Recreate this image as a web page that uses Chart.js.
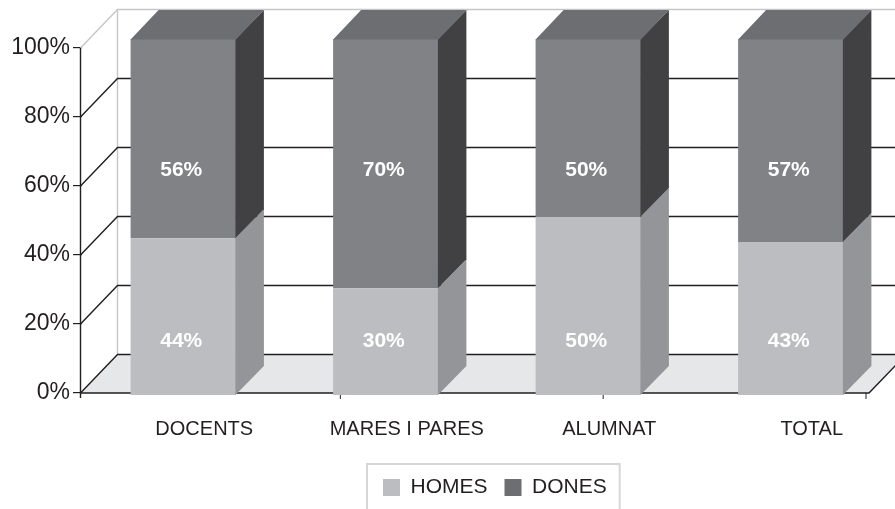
<!DOCTYPE html>
<html><head><meta charset="utf-8">
<script src="https://cdn.jsdelivr.net/npm/chart.js@4/dist/chart.umd.min.js"></script>
<style>html,body{margin:0;padding:0;background:#fff;} canvas{display:block;}</style>
</head><body>
<canvas id="c" width="895" height="509"></canvas>
<script>
const categories = ['DOCENTS', 'MARES I PARES', 'ALUMNAT', 'TOTAL'];
const homes = [44, 30, 50, 43];
const dones = [56, 70, 50, 57];
const seriesNames = ['HOMES', 'DONES'];
const yTickValues = [0, 20, 40, 60, 80, 100];
const yTickLabels = ['0%', '20%', '40%', '60%', '80%', '100%'];

const FONT = "'Liberation Sans', Arial, Helvetica, sans-serif";
const TXT = '#231f20';
const COL = {
  homes: {front: '#bcbdc0', side: '#939598', legend: '#bcbdc0'},
  dones: {front: '#808285', side: '#414042', top: '#6d6e71', legend: '#6d6e71'}
};
const LEGEND_COLORS = [COL.homes.legend, COL.dones.legend];
const WALL = {dx: 37, dy: -38.5};
const BAR = {dx: 28, dy: -29};
const LABEL_AT = [15.2, 63.2]; // value-space height where the data labels sit

const threeD = {
  id: 'threeD',
  afterLayout(chart) {
    const lg = chart.legend;
    if (!lg || !lg.lineWidths) return;
    const p = lg.options.labels.padding;
    const start = (lg.left + p + lg.right - lg.lineWidths[0]) / 2;
    const shift = 383 - start;
    lg.left += shift; lg.right += shift;
  },
  beforeDatasetsDraw(chart) {
    const ctx = chart.ctx, yt = chart.scales.yt, ca = chart.chartArea;
    const fx = 80.5, y0 = yt.getPixelForValue(0), y100 = yt.getPixelForValue(100);
    const fr = ca.right - 23;
    ctx.save();
    ctx.fillStyle = '#e6e7e8';
    ctx.beginPath();
    ctx.moveTo(fx, y0); ctx.lineTo(fr, y0);
    ctx.lineTo(fr + WALL.dx, y0 + WALL.dy); ctx.lineTo(fx + WALL.dx, y0 + WALL.dy);
    ctx.closePath(); ctx.fill();
    ctx.lineWidth = 1.4;
    ctx.strokeStyle = '#c6c6c6';
    ctx.beginPath();
    ctx.moveTo(fx + WALL.dx, y100 + WALL.dy); ctx.lineTo(fx + WALL.dx, y0 + WALL.dy);
    ctx.stroke();
    yTickValues.forEach(v => {
      const py = yt.getPixelForValue(v);
      ctx.strokeStyle = v === 100 ? '#c6c6c6' : TXT;
      ctx.beginPath();
      ctx.moveTo(fx, py); ctx.lineTo(fx + WALL.dx, py + WALL.dy); ctx.lineTo(chart.width, py + WALL.dy);
      ctx.stroke();
    });
    ctx.strokeStyle = TXT;
    ctx.beginPath();
    ctx.moveTo(fx, y0); ctx.lineTo(fr, y0); ctx.lineTo(fr + WALL.dx, y0 + WALL.dy);
    ctx.stroke();
    ctx.beginPath();
    ctx.moveTo(fx, y100); ctx.lineTo(fx, y0 + 5);
    ctx.stroke();
    ctx.lineWidth = 1;
    for (let k = 1; k <= 3; k++) {
      const tx = fx + k * (fr - fx) / 3 - 3;
      ctx.beginPath(); ctx.moveTo(tx, y0); ctx.lineTo(tx, y0 + 6); ctx.stroke();
    }
    ctx.restore();
  },
  afterDatasetsDraw(chart) {
    const ctx = chart.ctx, yS = chart.scales.y;
    const metas = chart.getSortedVisibleDatasetMetas();
    ctx.save();
    metas.forEach(meta => {
      const key = meta.index === 0 ? 'homes' : 'dones';
      const isTop = meta.index === metas.length - 1;
      meta.data.forEach(bar => {
        const {x, y, base, width} = bar.getProps(['x', 'y', 'base', 'width'], true);
        const l = x - width / 2, r = x + width / 2;
        ctx.fillStyle = COL[key].side;
        ctx.beginPath();
        ctx.moveTo(r - 0.5, y); ctx.lineTo(r + BAR.dx, y + BAR.dy);
        ctx.lineTo(r + BAR.dx, base + BAR.dy); ctx.lineTo(r - 0.5, base);
        ctx.closePath(); ctx.fill();
        if (isTop) {
          ctx.fillStyle = COL[key].top;
          ctx.beginPath();
          ctx.moveTo(l, y + 0.5); ctx.lineTo(r, y + 0.5);
          ctx.lineTo(r + BAR.dx, y + BAR.dy); ctx.lineTo(l + BAR.dx, y + BAR.dy);
          ctx.closePath(); ctx.fill();
        }
      });
    });
    ctx.fillStyle = '#ffffff';
    ctx.font = 'bold 21px ' + FONT;
    ctx.textAlign = 'center';
    ctx.textBaseline = 'middle';
    metas.forEach(meta => {
      const ds = chart.data.datasets[meta.index];
      const ly = yS.getPixelForValue(LABEL_AT[meta.index]);
      meta.data.forEach((bar, i) => {
        ctx.fillText(ds.data[i] + '%', bar.x - 2, ly);
      });
    });
    ctx.restore();
  },
  afterDraw(chart) {
    const lg = chart.legend;
    const hb = lg.legendHitBoxes;
    if (!hb || !hb.length) return;
    const first = hb[0], last = hb[hb.length - 1];
    const L = first.left - 16, R = last.left + last.width + 13, T = first.top - 13;
    const ctx = chart.ctx;
    ctx.save();
    ctx.strokeStyle = '#d6d6d6';
    ctx.lineWidth = 2;
    ctx.strokeRect(L, T, R - L, chart.height - T + 10);
    ctx.restore();
  }
};

new Chart(document.getElementById('c'), {
  type: 'bar',
  data: {
    labels: categories,
    datasets: [
      {label: seriesNames[0], data: homes, backgroundColor: COL.homes.front, yAxisID: 'y', borderWidth: 0},
      {label: seriesNames[1], data: dones, backgroundColor: COL.dones.front, yAxisID: 'y', borderWidth: 0}
    ]
  },
  options: {
    responsive: false,
    devicePixelRatio: 1,
    animation: false,
    layout: {padding: {top: 39, right: 3, bottom: 1, left: 0}},
    datasets: {bar: {barPercentage: 1, categoryPercentage: 0.52}},
    scales: {
      x: {
        stacked: true,
        offset: true,
        grid: {display: false, drawTicks: false},
        border: {display: false},
        ticks: {font: {family: FONT, size: 20}, color: TXT, padding: 22, labelOffset: 21, maxRotation: 0, autoSkip: false},
        afterFit(s) { s.height = 65; }
      },
      y: {stacked: true, min: 0, max: 100, display: false},
      yt: {
        type: 'linear',
        position: 'left',
        min: -0.58,
        max: 102.61,
        grid: {drawOnChartArea: false, drawTicks: true, tickLength: 9, color: TXT, lineWidth: 1.2},
        border: {display: false},
        ticks: {
          font: {family: FONT, size: 23}, color: TXT, padding: 3,
          callback: (v) => { const i = yTickValues.indexOf(v); return i >= 0 ? yTickLabels[i] : ''; }
        },
        afterBuildTicks(s) { s.ticks = yTickValues.map(v => ({value: v})); },
        afterFit(s) { s.width = 82; }
      }
    },
    plugins: {
      legend: {
        position: 'bottom',
        labels: {
          font: {family: FONT, size: 21}, color: TXT, boxWidth: 17, boxHeight: 17, padding: 17,
          generateLabels(chart) {
            const items = Chart.defaults.plugins.legend.labels.generateLabels(chart);
            items.forEach((it, i) => { it.fillStyle = LEGEND_COLORS[i]; it.strokeStyle = LEGEND_COLORS[i]; it.lineWidth = 0; });
            return items;
          }
        }
      },
      tooltip: {enabled: false}
    }
  },
  plugins: [threeD]
});
</script>
</body></html>
